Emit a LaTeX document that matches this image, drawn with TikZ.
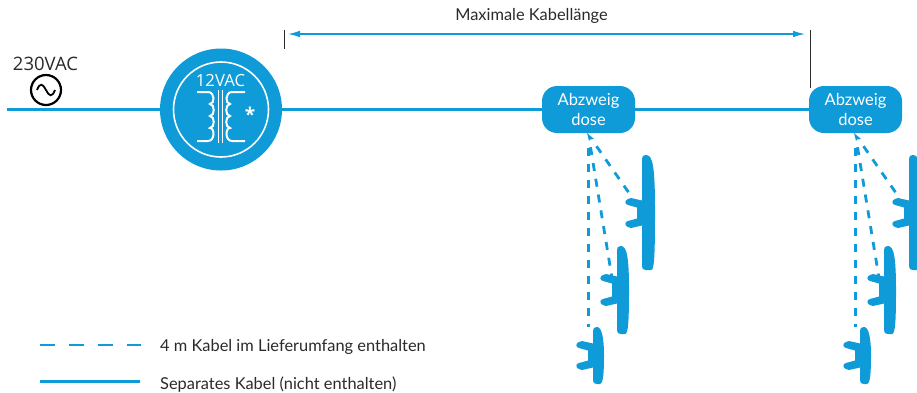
\documentclass[tikz,border=0pt]{standalone}
\usepackage{fontspec}
\setmainfont{Lato}
\newfontfamily\labfont{Open Sans}
\usetikzlibrary{arrows.meta}
\definecolor{vblue}{HTML}{0F9AD8}
\definecolor{vdark}{HTML}{2A2A2A}
\tikzset{
  wire/.style={vblue,line width=3pt},
  dashwire/.style={vblue,line width=2.8pt,dash pattern=on 8pt off 8pt},
  boxnode/.style={fill=vblue,rounded corners=15pt,minimum width=93pt,minimum height=47pt,inner sep=0pt,text=white,align=center,font=\fontsize{16.5}{20}\selectfont},
  lab/.style={text=vdark,font=\fontsize{16.4}{18}\selectfont,inner sep=0pt},
  coil/.style={white,line width=2pt},
}
% left x, width, top, bottom, stub 1 y, stub 2 y
\newcommand{\fixt}[6]{%
  \fill[vblue] (#1,#3+4) .. controls (#1,#3+1) and (#1+1,#3) .. (#1+4,#3)
    .. controls (#1+#2-2,#3) and (#1+#2,#3+12) .. (#1+#2,{(#3+#4)/2})
    .. controls (#1+#2,#4-10) and (#1+#2-1,#4) .. (#1+#2-4,#4)
    -- (#1+4,#4) .. controls (#1+1,#4) and (#1,#4-1) .. (#1,#4-4)
    -- (#1,#6+2.5) -- (#1-11,#6+5) -- (#1-14,#6+4) .. controls (#1-17.5,#6+3) and (#1-17.5,#6-1.5) .. (#1-14,#6-2)
    -- (#1-5,#6-4.5) -- (#1-5,#5+4.5) -- (#1-14,#5+2) .. controls (#1-17.5,#5+1.5) and (#1-17.5,#5-3) .. (#1-14,#5-4)
    -- (#1-11,#5-5) -- (#1,#5-2.5) -- cycle;
}
\begin{document}
\begin{tikzpicture}[x=1pt,y=-1pt]
\useasboundingbox (0,0) rectangle (917,392);
% anchors
\coordinate (src) at (7,109.5);
\coordinate (endA) at (288,34);
\coordinate (endB) at (805,34);
\node[circle,fill=vblue,minimum size=122pt,inner sep=0pt] (tr) at (221,109.5) {};
\node[boxnode] (b1) at (588.5,109.5) {Abzweig\\dose};
\node[boxnode] (b2) at (855.5,109.5) {Abzweig\\dose};
\draw[wire] (src) -- (tr);
\draw[wire] (tr) -- (b1);
\draw[wire] (b1) -- (b2);
% transformer
\draw[white,line width=1.6pt] (tr) circle (47.5pt);
\node[text=white,font=\labfont\fontsize{16.7}{17}\selectfont,inner sep=0pt] at (220.5,81) {12VAC};
\node[text=white,font=\labfont\bfseries\fontsize{19}{19}\selectfont,inner sep=0pt] at (250,114) {*};
\draw[white,line width=1pt] (218.6,90) -- (218.6,143) (222,90) -- (222,143);
\draw[coil] (197,92) -- (208,92) .. controls (215,92) and (215,104) .. (210,104)
  .. controls (215,104) and (215,116) .. (210,116)
  .. controls (215,116) and (215,128) .. (210,128)
  .. controls (215,128) and (215,141) .. (208,141) -- (197,141);
\draw[coil] (245,92) -- (232,92) .. controls (225,92) and (225,104) .. (230,104)
  .. controls (225,104) and (225,116) .. (230,116)
  .. controls (225,116) and (225,128) .. (230,128)
  .. controls (225,128) and (225,141) .. (232,141) -- (245,141);
% source
\node[lab,font=\labfont\fontsize{18.5}{20}\selectfont] (v) at (45.5,64) {230VAC};
\node[circle,draw=black,line width=2.2pt,minimum size=30pt,inner sep=0pt] (ac) at (46,90) {};
\draw[black,line width=1.8pt] (37,90) .. controls (40,82) and (43,84) .. (46,90) .. controls (49,96) and (52,98) .. (55,90);
% dimension
\node[lab] at (531.5,16) {Maximale Kabellänge};
\draw[{Latex[length=12pt,width=6.5pt]}-{Latex[length=12pt,width=6.5pt]},vblue,line width=1.2pt] (endA) -- (endB);
\draw[vdark,line width=1pt] (284,30) -- (284,49);
\draw[vdark,line width=1pt] (810,30) -- (810,88);
% fixtures
\fixt{642}{13}{155}{270}{203}{223}
\fixt{617}{12}{246}{334}{279}{301}
\fixt{593}{11}{327}{384}{346}{365}
\fixt{909}{13}{155}{270}{203}{223}
\fixt{884}{12}{246}{334}{279}{301}
\fixt{860}{11}{327}{384}{346}{365}
% fixture anchors
\coordinate (f1a) at (629,193); \coordinate (f1b) at (612,278); \coordinate (f1c) at (588.5,327);
\coordinate (f2a) at (896,193); \coordinate (f2b) at (879,278); \coordinate (f2c) at (855.5,327);
% arrow nubs
\fill[vblue] (587,133) -- (594,139) -- (590,139.5) -- (589,141) -- cycle;
\fill[vblue] (854,133) -- (861,139) -- (857,139.5) -- (856,141) -- cycle;
\draw[dashwire] (b1.south)++(0,15) -- (f1c);
\draw[dashwire] (b1.south)++(2,14) -- (f1b);
\draw[dashwire] (b1.south)++(8,13) -- (f1a);
\draw[dashwire] (b2.south)++(0,15) -- (f2c);
\draw[dashwire] (b2.south)++(2,14) -- (f2b);
\draw[dashwire] (b2.south)++(8,13) -- (f2a);
% legend
\coordinate (la) at (40,345); \coordinate (lb) at (141,345);
\coordinate (lc) at (40,381); \coordinate (ld) at (140,381);
\draw[vblue,line width=2.6pt,dash pattern=on 14.5pt off 14.5pt] (la) -- (lb);
\draw[wire] (lc) -- (ld);
\node[lab,anchor=west] at (160,346.5) {4 m Kabel im Lieferumfang enthalten};
\node[lab,anchor=west] at (160,384.5) {Separates Kabel (nicht enthalten)};
\end{tikzpicture}
\end{document}
